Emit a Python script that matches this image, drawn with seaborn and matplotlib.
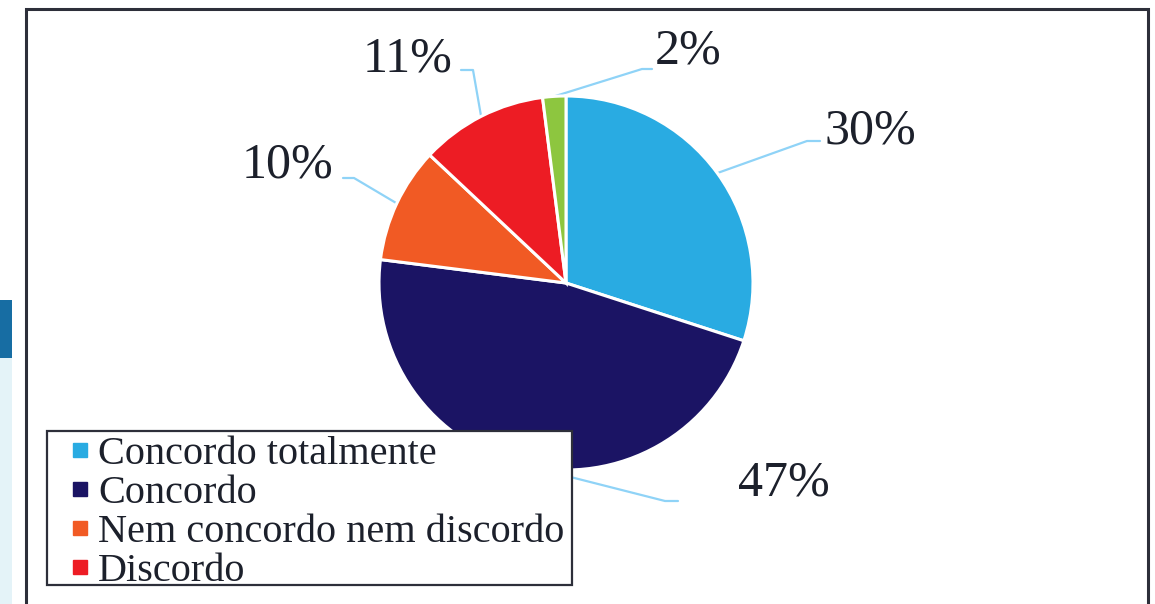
import numpy as np
import matplotlib.pyplot as plt
import seaborn as sns
from matplotlib.patches import Rectangle
from matplotlib.lines import Line2D

sns.set_style('white')
plt.rcParams['font.family'] = ['Liberation Serif', 'DejaVu Serif']

categories = ['Concordo totalmente', 'Concordo', 'Nem concordo nem discordo',
              'Discordo', 'Discordo totalmente']
values = [30, 47, 10, 11, 2]
pct_labels = ['30%', '47%', '10%', '11%', '2%']
colors = sns.color_palette(['#29abe2', '#1b1464', '#f15a24', '#ed1c24', '#8dc63f'])

W, H = 1155, 604
cx, cy, r = 566, 283, 187

fig = plt.figure(figsize=(W / 100, H / 100), dpi=100)
fig.patch.set_facecolor('white')

# side strip and outer frame
fig.add_artist(Rectangle((0, 1 - 358 / H), 12 / W, 58 / H, transform=fig.transFigure,
                         facecolor='#176da3', edgecolor='none'))
fig.add_artist(Rectangle((0, 0), 12 / W, 1 - 358 / H, transform=fig.transFigure,
                         facecolor='#e4f3f8', edgecolor='none'))
fig.add_artist(Rectangle((26 / W, -0.1), 1122 / W, 1.1 - 9 / H, transform=fig.transFigure,
                         facecolor='none', edgecolor='#2d2f3a', linewidth=2.2))

ax = fig.add_axes([(cx - r) / W, 1 - (cy + r) / H, 2 * r / W, 2 * r / H])
wedges, _ = ax.pie(values, colors=colors, startangle=90, counterclock=False, radius=1,
                   wedgeprops=dict(edgecolor='white', linewidth=2.2))
ax.set_xlim(-1, 1)
ax.set_ylim(-1, 1)
ax.axis('off')


def to_data(px, py):
    return (px - cx) / r, (cy - py) / r


# label layout: text (center x, baseline y), elbow, end of leader line (pixels)
layout = [
    ((870, 143), (807, 141), (820, 141)),
    ((784, 495), (665, 501), (678, 501)),
    ((287, 178), (354, 178), (343, 178)),
    ((408, 72), (473, 70), (461, 70)),
    ((688, 64), (642, 69), (652, 69)),
]

for w, lab, (tp, ep, endp) in zip(wedges, pct_labels, layout):
    ang = np.deg2rad((w.theta1 + w.theta2) / 2)
    sx, sy = np.cos(ang), np.sin(ang)
    ex, ey = to_data(*ep)
    fx, fy = to_data(*endp)
    ax.plot([sx, ex, fx], [sy, ey, fy], color='#8fd3f7', linewidth=1.6,
            clip_on=False, zorder=0)
    tx, ty = to_data(*tp)
    ax.text(tx, ty, lab, ha='center', va='baseline', fontsize=36, color='#1c202b')

# legend box drawn separately so the entries can be placed freely
fig.add_artist(Rectangle((47 / W, 1 - 585 / H), 525 / W, 154 / H, transform=fig.transFigure,
                         facecolor='white', edgecolor='#2d2f3a', linewidth=1.6, zorder=5))
handles = [Line2D([], [], marker='s', linestyle='', markersize=9.5, color=c)
           for c in colors[:4]]
leg = fig.legend(handles, categories[:4], loc='upper left',
                 bbox_to_anchor=(64 / W, 1 - 432 / H), fontsize=29,
                 frameon=False, borderpad=0.1, labelspacing=0.04,
                 handlelength=0.6, handletextpad=0.15, borderaxespad=0)
leg.set_zorder(6)
for t in leg.get_texts():
    t.set_color('#1c202b')

fig.savefig('out.png', dpi=100)
